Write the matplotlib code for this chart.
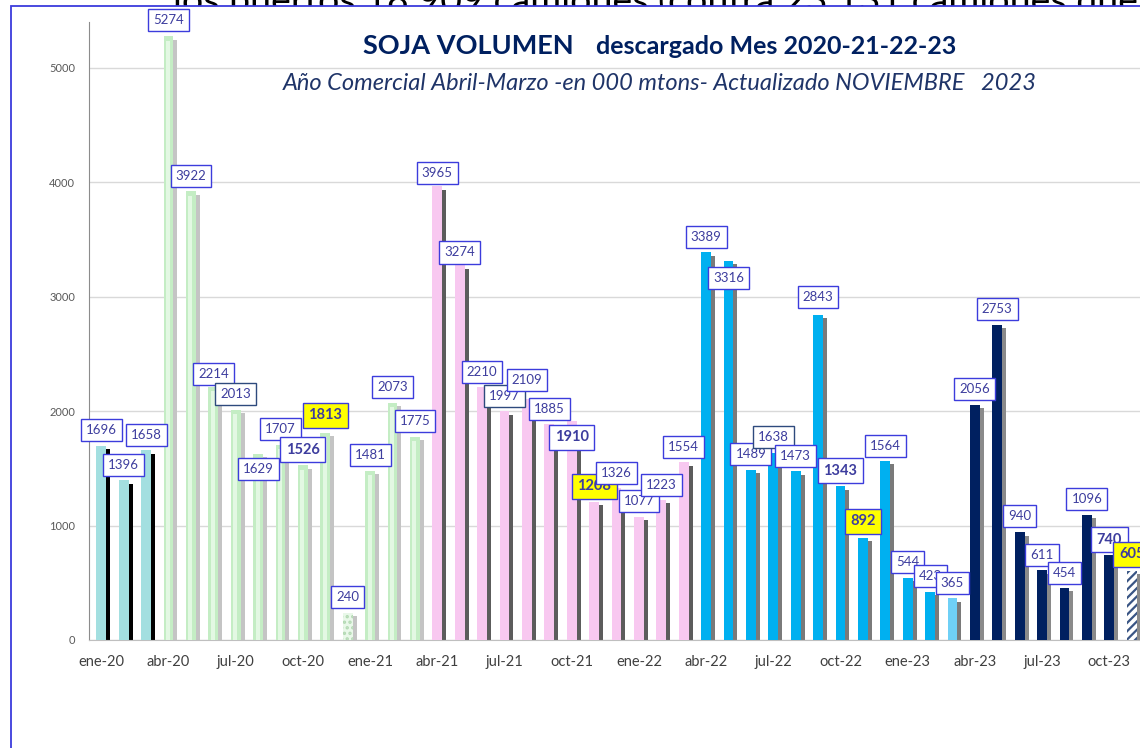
import matplotlib
matplotlib.use('Agg')
import matplotlib.pyplot as plt
from matplotlib.patches import Rectangle

# --- datos: volumen de soja descargado por mes (000 mtons) ---
meses = ['ene', 'feb', 'mar', 'abr', 'may', 'jun', 'jul', 'ago', 'sep', 'oct', 'nov', 'dic']
anios = ['20', '21', '22', '23']

vol_2019_20 = [1696, 1396, 1658]                      # ene-mar 2020
vol_2020_21 = [5274, 3922, 2214, 2013, 1629, 1707, 1526, 1813, 240, 1481, 2073, 1775]
vol_2021_22 = [3965, 3274, 2210, 1997, 2109, 1885, 1910, 1208, 1326, 1077, 1223, 1554]
vol_2022_23 = [3389, 3316, 1489, 1638, 1473, 2843, 1343, 892, 1564, 544, 423, 365]
vol_2023_24 = [2056, 2753, 940, 611, 454, 1096, 740, 605]   # abr-nov 2023

campanias = [vol_2019_20, vol_2020_21, vol_2021_22, vol_2022_23, vol_2023_24]

titulo_1 = 'SOJA VOLUMEN'
titulo_2 = 'descargado Mes 2020-21-22-23'
subtitulo = 'Año Comercial Abril-Marzo -en 000 mtons- Actualizado NOVIEMBRE   2023'
texto_fondo = 'los puertos 18 909 camiones (contra 23 131 camiones que'

# --- estilos ---
W, H, DPI = 1140, 748, 100
NAVY = '#002060'
estilos = [
    dict(color='#a3dfe0', sombra='#000000'),
    dict(color='#c4edc4', sombra='#c4c4c4', brillo='#e3f8e3'),
    dict(color='#f8c8f0', sombra='#5c5c5c'),
    dict(color='#00b0f0', sombra='#7a7a7a'),
    dict(color=NAVY, sombra='#8a8a8a'),
]
# desplazamiento vertical de las etiquetas (centro de caja respecto del valor)
desplaz_def = 135
desplaz = {3: 145, 5: 107, 7: -137, 10: 150, 15: 119, 16: 112, 19: 160,
           21: -139, 28: -157, 32: 150, 34: 146, 41: 142, 46: 145}

valores = [v for c in campanias for v in c]
grupo = [k for k, c in enumerate(campanias) for _ in c]
etiquetas_mes = [f'{m}-{a}' for a in anios for m in meses][:len(valores)]
x = list(range(len(valores)))

plt.rcParams['font.family'] = ['Lato', 'DejaVu Sans']
plt.rcParams['hatch.linewidth'] = 1.6

fig = plt.figure(figsize=(W / DPI, H / DPI), dpi=DPI)

# texto del documento detras del grafico (cortado por el marco)
fig.text(173 / W, 1 - 13 / H, texto_fondo, fontsize=27, color='black',
         ha='left', va='baseline', zorder=0.5)
marco = Rectangle((11 / W, -0.05), 1.2, 1.05 - 6 / H, transform=fig.transFigure,
                  fc='white', ec='#3c3cdc', lw=1.3, zorder=1)
fig.add_artist(marco)

ax = fig.add_axes([89 / W, (H - 640) / H, 1055 / W, 618 / H])
ax.set_zorder(2)
ax.patch.set_alpha(0)

# sombras
for i, v in zip(x, valores):
    st = estilos[grupo[i]]
    ax.bar(i + 0.2, v - 30, width=0.40, color=st['sombra'], lw=0, zorder=2)

# barras principales
for i, v in zip(x, valores):
    st = estilos[grupo[i]]
    mes = etiquetas_mes[i]
    if mes == 'dic-20':
        ax.bar(i, v, width=0.44, color='#e9f8e9', edgecolor='#b3d9b3', hatch='...', lw=0, zorder=3)
    elif mes == 'mar-23':
        ax.bar(i, v, width=0.44, color='#6fd0f6', lw=0, zorder=3)
    elif mes == 'nov-23':
        ax.bar(i, v, width=0.44, color='white', edgecolor='#3a5584', hatch='////', lw=0, zorder=3)
    else:
        ax.bar(i, v, width=0.44, color=st['color'], lw=0, zorder=3)
        if 'brillo' in st:
            ax.bar(i - 0.02, v - 40, width=0.18, color=st['brillo'], lw=0, zorder=3.5)

# etiquetas de datos
for i, v in zip(x, valores):
    mes = etiquetas_mes[i][:3]
    negrita = mes in ('oct', 'nov')
    fondo = '#ffff00' if mes == 'nov' else 'white'
    borde = '#2e4a7d' if mes == 'jul' and grupo[i] < 4 else '#3c3cdc'
    ax.text(i, v + desplaz.get(i, desplaz_def), str(v), ha='center', va='center',
            fontsize=10.5 if negrita else 9.5, fontweight='bold' if negrita else 'normal',
            color='#3d3d9e', zorder=6, clip_on=False,
            bbox=dict(boxstyle='square,pad=0.38', fc=fondo, ec=borde, lw=1))

ax.set_xlim(-0.55, len(valores) - 0.45)
ax.set_ylim(0, 5400)
ax.set_yticks(range(0, 5001, 1000))
ax.set_xticks(x[::3])
ax.set_xticklabels(etiquetas_mes[::3])
ax.tick_params(axis='x', length=0, pad=11, labelsize=10.5, labelcolor='#404040')
ax.tick_params(axis='y', length=0, pad=10, labelsize=8, labelcolor='#595959')
ax.yaxis.grid(True, color='#d9d9d9', lw=1, zorder=0)
ax.set_axisbelow(True)
for s in ('top', 'right'):
    ax.spines[s].set_visible(False)
ax.spines['left'].set_color('#8c8c8c')
ax.spines['bottom'].set_color('#bfbfbf')

# titulos
fig.text(574 / W, 1 - 54 / H, titulo_1, fontsize=19.5, fontweight='bold', color=NAVY,
         ha='right', va='baseline', zorder=3)
fig.text(596 / W, 1 - 54 / H, titulo_2, fontsize=18, fontweight='bold', color=NAVY,
         ha='left', va='baseline', zorder=3)
fig.text(660 / W, 1 - 90 / H, subtitulo, fontsize=17, fontstyle='italic', color='#1f3468',
         ha='center', va='baseline', zorder=3)

fig.savefig('out.png', dpi=DPI, facecolor='white')
